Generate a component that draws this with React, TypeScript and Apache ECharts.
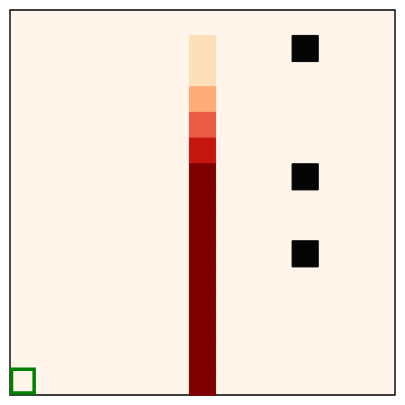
import React, { useEffect, useRef } from "react";
import * as echarts from "echarts";

const N = 15;
const cols: string[] = Array.from({ length: N }, (_, i) => String(i));
const rows: string[] = Array.from({ length: N }, (_, i) => String(i));

// column 7 levels by row (0 = background)
const colIndex = 7;
const columnLevels = [0, 1, 1, 2, 3, 4, 5, 5, 5, 5, 5, 5, 5, 5, 5];
const levelColors = ["#fff5eb", "#fde0b9", "#fdab78", "#ea5a44", "#c5150f", "#7f0000"];

const blackLevel = 6;
const blackColor = "#050505";
const blackCells: [number, number][] = [
  [11, 1],
  [11, 6],
  [11, 9],
];
const markedCell: [number, number] = [0, 14];

export default function App() {
  const ref = useRef<HTMLDivElement>(null);
  useEffect(() => {
    if (!ref.current) return;
    const chart = echarts.init(ref.current, undefined, { renderer: "svg" });
    const colorOf = (lv: number) => (lv === blackLevel ? blackColor : levelColors[lv]);
    const heatData = columnLevels
      .map((lv, r) => [colIndex, r, lv])
      .filter((d) => d[2] > 0)
      .concat(blackCells.map(([c, r]) => [c, r, blackLevel]))
      .map((d) => ({
        value: d,
        itemStyle: { borderColor: colorOf(d[2]), borderWidth: 1 },
      }));
    const pieces = levelColors
      .slice(1)
      .map((c, i) => ({ value: i + 1, color: c }))
      .concat([{ value: blackLevel, color: blackColor }]);
    chart.setOption({
      animation: false,
      backgroundColor: "#ffffff",
      grid: {
        left: 10,
        top: 10,
        width: 385,
        height: 385,
        show: true,
        backgroundColor: "#fff5eb",
        borderColor: "#000000",
        borderWidth: 1.4,
      },
      xAxis: {
        type: "category",
        data: cols,
        show: false,
      },
      yAxis: {
        type: "category",
        data: rows,
        inverse: true,
        show: false,
      },
      visualMap: {
        show: false,
        type: "piecewise",
        seriesIndex: 0,
        dimension: 2,
        pieces,
      },
      series: [
        {
          type: "heatmap",
          data: heatData,
          emphasis: { disabled: true },
        },
        {
          type: "custom",
          data: [markedCell],
          clip: true,
          renderItem: (params: any, api: any) => {
            const c = api.coord([api.value(0), api.value(1)]);
            const s = api.size([1, 1]);
            const x0 = c[0] - s[0] / 2;
            const y0 = c[1] - s[1] / 2;
            return {
              type: "rect",
              shape: { x: x0 + 1.5, y: y0, width: s[0] - 3, height: s[1] - 2 },
              style: { fill: "none", stroke: "#008000", lineWidth: 3.5 },
            };
          },
          z: 10,
        },
      ],
    });
    return () => chart.dispose();
  }, []);
  return (
    <div
      ref={ref}
      style={{ position: "fixed", left: 0, top: 0, width: 405, height: 405 }}
    />
  );
}
